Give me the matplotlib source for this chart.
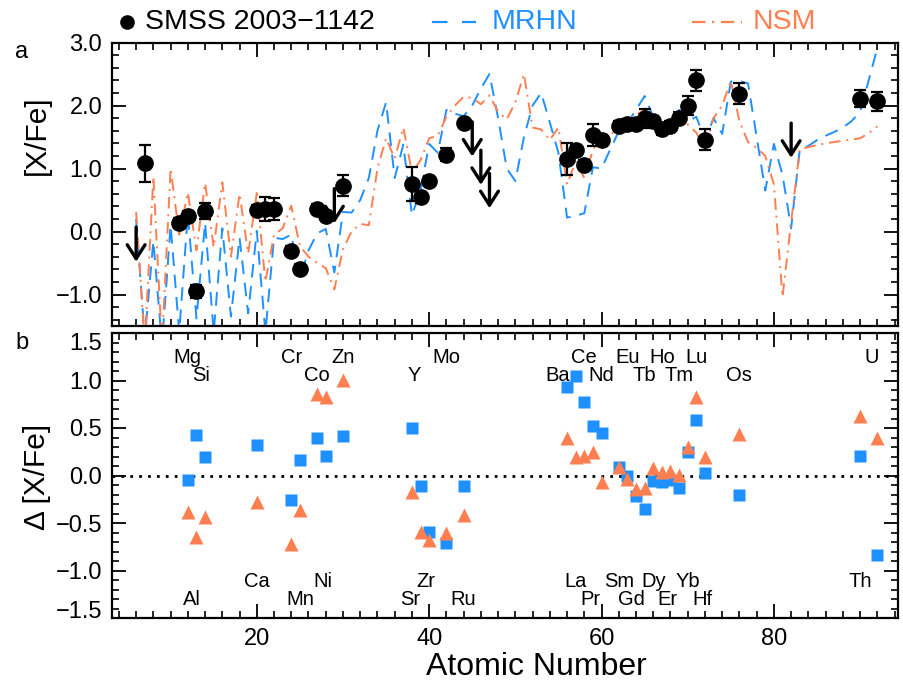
import matplotlib
matplotlib.use('Agg')
import matplotlib.pyplot as plt
import matplotlib.transforms as mtransforms
from matplotlib.ticker import MultipleLocator, FuncFormatter
from matplotlib.lines import Line2D

plt.rcParams['font.family'] = ['Liberation Sans', 'DejaVu Sans']

# ---------------- data ----------------
# observed abundances (panel a)
obs_z = [7, 11, 12, 13, 14, 20, 21, 22, 24, 25, 27, 28, 30, 38, 39, 40, 42, 44,
         56, 57, 58, 59, 60, 62, 63, 64, 65, 66, 67, 68, 69, 70, 71, 72, 76, 90, 92]
obs_xfe = [1.08, 0.13, 0.24, -0.95, 0.33, 0.34, 0.36, 0.36, -0.31, -0.59, 0.36, 0.25, 0.73,
           0.76, 0.54, 0.80, 1.22, 1.72, 1.15, 1.30, 1.05, 1.53, 1.45, 1.68, 1.70, 1.71,
           1.80, 1.76, 1.63, 1.68, 1.80, 2.00, 2.40, 1.46, 2.19, 2.11, 2.07]
obs_err = [0.30, 0.08, 0.08, 0.10, 0.13, 0.08, 0.19, 0.17, 0.08, 0.08, 0.08, 0.08, 0.16,
           0.27, 0.08, 0.08, 0.10, 0.07, 0.26, 0.08, 0.08, 0.17, 0.08, 0.08, 0.08, 0.08,
           0.15, 0.08, 0.10, 0.08, 0.10, 0.15, 0.17, 0.16, 0.16, 0.13, 0.15]

# upper limits
lim_z = [6, 29, 45, 46, 47, 82]
lim_xfe = [0.07, 0.68, 1.74, 1.29, 0.92, 1.72]

# model predictions, Z = 6 ... 92
model_z = list(range(6, 93))
mrhn = [0.20, -1.70, -0.15, -1.80, 0.10, -1.60, 0.28, -1.38, 0.14, -1.60,   # 6-15
        0.05, -1.35, -0.10, -1.30, 0.01, -1.60, -0.10, -0.12, -0.05, -0.75,  # 16-25
        -0.30, -0.03, 0.04, -0.65, 0.31, 0.30, 0.50, 0.85, 1.60, 2.05,      # 26-35
        0.85, 1.38, 0.26, 0.65, 1.39, 1.25, 1.93, 1.87, 1.83, 2.00,         # 36-45
        2.27, 2.50, 1.80, 1.00, 0.80, 1.50, 2.00, 2.20, 1.73, 1.25,         # 46-55
        0.22, 0.25, 0.29, 1.02, 1.00, 1.30, 1.59, 1.72, 1.93, 2.15,         # 56-65
        1.82, 1.70, 1.73, 1.93, 1.75, 1.82, 1.45, 1.80, 1.55, 2.38,         # 66-75
        2.39, 2.35, 1.50, 0.65, 1.39, 0.90, 0.05, 1.30, 1.36, 1.45,         # 76-85
        1.52, 1.58, 1.65, 1.75, 1.90, 2.40, 2.91]                           # 86-92
nsm = [0.31, -1.80, 0.87, -1.80, 1.00, -0.05, 0.62, -0.30, 0.77, -0.25,     # 6-15
       0.78, -0.40, 0.60, -0.35, 0.61, -0.80, -0.05, 0.05, 0.41, -0.23,     # 16-25
       -0.40, -0.50, -0.58, -0.92, -0.28, 0.00, 0.12, 0.10, 1.00, 1.48,     # 26-35
       1.16, 1.65, 0.94, 1.13, 1.48, 1.52, 1.82, 2.00, 2.14, 2.12,          # 36-45
       2.02, 2.16, 1.90, 1.78, 2.05, 2.50, 1.65, 1.62, 1.45, 1.65,          # 46-55
       0.75, 1.11, 0.85, 1.29, 1.52, 1.55, 1.60, 1.75, 1.85, 1.93,          # 56-65
       1.68, 1.59, 1.63, 1.79, 1.70, 1.57, 1.30, 1.80, 2.00, 2.39,          # 66-75
       1.75, 1.42, 1.33, 1.20, 0.75, -1.04, 0.15, 1.31, 1.34, 1.37,         # 76-85
       1.40, 1.42, 1.44, 1.46, 1.48, 1.56, 1.67]                            # 86-92

# residuals (panel b)
delta_el = ['Mg', 'Al', 'Si', 'Ca', 'Cr', 'Mn', 'Co', 'Ni', 'Zn', 'Sr', 'Y', 'Zr', 'Mo', 'Ru',
            'Ba', 'La', 'Ce', 'Pr', 'Nd', 'Sm', 'Eu', 'Gd', 'Tb', 'Dy', 'Ho', 'Er', 'Tm',
            'Yb', 'Lu', 'Hf', 'Os', 'Th', 'U']
delta_z = [12, 13, 14, 20, 24, 25, 27, 28, 30, 38, 39, 40, 42, 44, 56, 57, 58, 59, 60,
           62, 63, 64, 65, 66, 67, 68, 69, 70, 71, 72, 76, 90, 92]
d_mrhn = [-0.045, 0.43, 0.19, 0.32, -0.26, 0.165, 0.39, 0.21, 0.42, 0.505, -0.115, -0.59,
          -0.71, -0.11, 0.93, 1.05, 0.77, 0.52, 0.45, 0.09, -0.01, -0.22, -0.35, -0.06,
          -0.07, -0.05, -0.13, 0.25, 0.58, 0.025, -0.20, 0.21, -0.84]
d_nsm = [-0.38, -0.65, -0.44, -0.28, -0.72, -0.36, 0.86, 0.83, 1.01, -0.175, -0.59, -0.68,
         -0.60, -0.42, 0.40, 0.19, 0.21, 0.25, -0.07, 0.085, -0.04, -0.14, -0.13, 0.08,
         0.04, 0.05, 0.01, 0.30, 0.83, 0.19, 0.44, 0.63, 0.40]

# element label rows
row_top1 = ['Mg', 'Cr', 'Zn', 'Mo', 'Ce', 'Eu', 'Ho', 'Lu', 'U']
row_top2 = ['Si', 'Co', 'Y', 'Ba', 'Nd', 'Tb', 'Tm', 'Os']
row_bot1 = ['Ca', 'Ni', 'Zr', 'La', 'Sm', 'Dy', 'Yb', 'Th']
row_bot2 = ['Al', 'Mn', 'Sr', 'Ru', 'Pr', 'Gd', 'Er', 'Hf']

BLUE = '#1E90FF'
ORANGE = '#FF7F50'

W, H = 904, 688
fig = plt.figure(figsize=(W / 100, H / 100), dpi=100)


def fx(px):
    return px / W


def fy(py):
    return 1 - py / H


def fmt(v, pos):
    s = '%.1f' % v
    if s.startswith('-'):
        s = '\u2212' + s[1:]
    return s


axL, axR = 112, 898
ax1 = fig.add_axes([fx(axL), fy(326), fx(axR) - fx(axL), fy(42.5) - fy(326)])
ax2 = fig.add_axes([fx(axL), fy(618), fx(axR) - fx(axL), fy(333) - fy(618)])

XLIM = (3.2, 94.4)

for ax in (ax1, ax2):
    ax.set_xlim(*XLIM)
    ax.xaxis.set_major_locator(MultipleLocator(20))
    ax.xaxis.set_minor_locator(MultipleLocator(2))
    ax.tick_params(which='both', direction='in', top=True, right=True, labelsize=17)
    ax.tick_params(which='major', length=10, width=1.3, pad=7)
    ax.tick_params(which='minor', length=5, width=1.2)
    for s in ax.spines.values():
        s.set_linewidth(1.6)

# ---- panel a ----
ax1.set_ylim(-1.5, 3.0)
ax1.yaxis.set_major_locator(MultipleLocator(1.0))
ax1.yaxis.set_minor_locator(MultipleLocator(0.2))
ax1.yaxis.set_major_formatter(FuncFormatter(fmt))
ax1.tick_params(axis='x', labelbottom=False)

ax1.plot(model_z, mrhn, color=BLUE, lw=1.4, dashes=(7, 4.5), zorder=2)
ax1.plot(model_z, nsm, color=ORANGE, lw=1.4, dashes=(6, 3, 1, 3), zorder=2)
ax1.errorbar(obs_z, obs_xfe, yerr=obs_err, fmt='o', color='k', ms=11,
             elinewidth=1.6, capsize=4, capthick=1.6, zorder=5)
for z, v in zip(lim_z, lim_xfe):
    ax1.annotate('', xy=(z, v - 0.55), xytext=(z, v),
                 arrowprops=dict(arrowstyle='->,head_length=0.5,head_width=0.32',
                                 lw=2.4, color='k', shrinkA=0, shrinkB=0,
                                 mutation_scale=20), zorder=6)

# ---- panel b ----
ax2.set_ylim(-1.5, 1.5)
ax2.yaxis.set_major_locator(MultipleLocator(0.5))
ax2.yaxis.set_minor_locator(MultipleLocator(0.1))
ax2.yaxis.set_major_formatter(FuncFormatter(fmt))
ax2.axhline(0, color='k', lw=2, ls=(0, (1, 2.2)), zorder=1)
ax2.plot(delta_z, d_mrhn, 's', color=BLUE, ms=9, mec='none', zorder=3)
ax2.plot(delta_z, d_nsm, '^', color=ORANGE, ms=10, mec='none', zorder=4)

zmap = dict(zip(delta_el, delta_z))
label_shift = {'Ba': -1.1, 'Y': -0.7, 'U': -0.7, 'Si': -0.5, 'Al': -0.5, 'Zr': -0.35,
               'Sr': -0.2, 'Pr': -0.3, 'Gd': -0.5, 'Er': -0.3, 'Hf': -0.3, 'Ni': -0.3}
for row, yb in ((row_top1, 1.18), (row_top2, 0.99), (row_bot1, -1.17), (row_bot2, -1.36)):
    for el in row:
        ax2.text(zmap[el] + label_shift.get(el, 0), yb, el, ha='center', va='baseline',
                 fontsize=14.5, zorder=6)

# ---- titles / labels ----
fig.text(fx(536), fy(667), 'Atomic Number', ha='center', va='center', fontsize=23)
fig.text(fx(37), fy(135), '[X/Fe]', ha='center', va='center', rotation=90, fontsize=21.5)
fig.text(fx(37), fy(477), 'Δ [X/Fe]', ha='center', va='center', rotation=90, fontsize=21.5)
fig.text(fx(22), fy(52), 'a', ha='center', va='center', fontsize=17)
fig.text(fx(22), fy(343), 'b', ha='center', va='center', fontsize=17)

# ---- legend (top) ----
ly = fy(22)
fig.add_artist(Line2D([fx(127)], [ly], marker='o', color='k', ms=9.5, ls='none'))
fig.text(fx(145), ly, 'SMSS 2003\u22121142', ha='left', va='center', fontsize=20.5)
fig.add_artist(Line2D([fx(432), fx(476)], [ly, ly], color=BLUE, lw=1.6, dashes=(7, 6.5)))
fig.text(fx(492), ly, 'MRHN', ha='left', va='center', fontsize=20.5, color=BLUE)
fig.add_artist(Line2D([fx(692), fx(742)], [ly, ly], color=ORANGE, lw=1.6, dashes=(6, 3, 1, 3)))
fig.text(fx(753), ly, 'NSM', ha='left', va='center', fontsize=20.5, color=ORANGE)

# nudge the edge tick labels of panel b inward, as in the original
fig.canvas.draw()
labels = ax2.yaxis.get_majorticklabels()
for lab in labels:
    txt = lab.get_text()
    if txt == '1.5':
        lab.set_transform(lab.get_transform() + mtransforms.ScaledTranslation(0, -6 / 72, fig.dpi_scale_trans))
    elif txt == '\u22121.5':
        lab.set_transform(lab.get_transform() + mtransforms.ScaledTranslation(0, 6 / 72, fig.dpi_scale_trans))

fig.savefig('out.png', dpi=100)
